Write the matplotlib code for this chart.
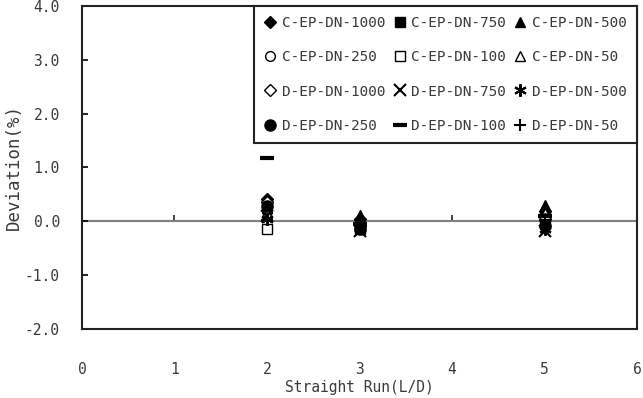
import matplotlib
matplotlib.use("Agg")
from matplotlib import pyplot as plt

plt.rcParams['font.family'] = ['DejaVu Sans Mono']

# straight run positions (L/D)
runs = [2, 3, 5]

# deviation (%) for each meter / size
c_1000 = [0.42, 0.05, 0.20]
c_750 = [0.30, -0.10, 0.10]
c_500 = [0.25, 0.12, 0.30]
c_250 = [0.20, -0.05, 0.00]
c_100 = [-0.15, -0.15, -0.05]
c_50 = [0.15, 0.00, 0.15]
d_1000 = [0.35, -0.08, 0.05]
d_750 = [0.10, -0.18, -0.18]
d_500 = [0.05, -0.12, -0.15]
d_250 = [0.28, -0.14, -0.08]
d_100 = [1.18, -0.05, 0.10]
d_50 = [0.02, 0.02, 0.02]

names = ['C-EP-DN-1000', 'C-EP-DN-750', 'C-EP-DN-500',
         'C-EP-DN-250', 'C-EP-DN-100', 'C-EP-DN-50',
         'D-EP-DN-1000', 'D-EP-DN-750', 'D-EP-DN-500',
         'D-EP-DN-250', 'D-EP-DN-100', 'D-EP-DN-50']
series = [c_1000, c_750, c_500, c_250, c_100, c_50,
          d_1000, d_750, d_500, d_250, d_100, d_50]

# marker, filled, size, edge width
styles = [('D', True, 6, 1), ('s', True, 7, 1), ('^', True, 7, 1),
          ('o', False, 7, 1), ('s', False, 7, 1), ('^', False, 7, 1),
          ('D', False, 6, 1), ('x', False, 8, 1.5), ((6, 2, 0), False, 9, 1.5),
          ('o', True, 8, 1), ('_', False, 10, 3), ('+', False, 9, 1.5)]

txt = '#3a3a3a'

fig = plt.figure(figsize=(6.43, 3.98), dpi=100)
ax = fig.add_axes([0.1275, 0.1734, 0.8632, 0.8116])

handles = []
for name, ys, (m, filled, ms, mew) in zip(names, series, styles):
    h, = ax.plot(runs, ys, linestyle='none', marker=m, markersize=ms,
                 markeredgewidth=mew, color='black',
                 markerfacecolor='black' if filled else 'white',
                 markeredgecolor='black', label=name, zorder=3)
    handles.append(h)

ax.set_xlim(0, 6)
ax.set_ylim(-2, 4)
ax.set_yticks([-2, -1, 0, 1, 2, 3, 4])
ax.set_yticklabels(['%.1f' % v for v in [-2, -1, 0, 1, 2, 3, 4]])
ax.set_xticks(range(7))
for s in ax.spines.values():
    s.set_linewidth(1.5)
    s.set_color('#222222')

# horizontal axis crosses at zero
zx = ax.secondary_xaxis(1 / 3)
zx.set_xticks(range(1, 6))
zx.tick_params(direction='in', length=4, width=1.2, labelbottom=False,
               color='#222222')
zx.spines['bottom'].set_color('#808080')
zx.spines['bottom'].set_linewidth(1.5)

ax.xaxis.set_tick_params(length=0, pad=24, labelsize=10.5, labelcolor=txt)
ax.yaxis.set_tick_params(direction='in', length=4, width=1.2, pad=16,
                         labelsize=10.5, labelcolor=txt)

ax.set_xlabel('Straight Run(L/D)', fontsize=10.5, color=txt, labelpad=2)
ax.set_ylabel('Deviation(%)', fontsize=12.5, color=txt, labelpad=1)

order = [0, 3, 6, 9, 1, 4, 7, 10, 2, 5, 8, 11]
leg = ax.legend([handles[i] for i in order], [names[i] for i in order],
                ncol=3, loc='upper right', borderaxespad=0, fancybox=False,
                edgecolor='#222222', framealpha=1, fontsize=10.4,
                handlelength=0.8, handletextpad=0.4, columnspacing=0.6,
                labelspacing=1.4, borderpad=0.7)
leg.get_frame().set_linewidth(1.5)
leg.set_zorder(5)
for t in leg.get_texts():
    t.set_color(txt)

fig.savefig('out.png', dpi=100)
